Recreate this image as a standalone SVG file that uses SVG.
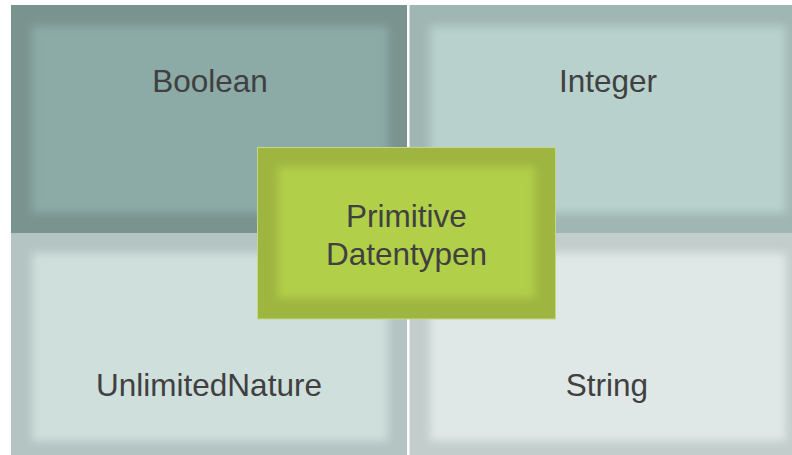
<svg xmlns="http://www.w3.org/2000/svg" width="792" height="455" viewBox="0 0 792 455">
  <defs>
    <!-- soft edge used for the lighter inner panel of every tile -->
    <filter id="soft" x="-10%" y="-10%" width="120%" height="120%">
      <feGaussianBlur stdDeviation="4"/>
    </filter>
    <style>
      .label { font-family: "Liberation Sans", Arial, sans-serif; font-size: 31.5px; fill: #404040; text-anchor: middle; }
      .inner { filter: url(#soft); }
    </style>
  </defs>

  <rect x="0" y="0" width="792" height="455" fill="#ffffff"/>

  <g id="boolean">
    <rect x="11" y="5" width="396" height="228" fill="#7a938f"/>
    <rect class="inner" x="32" y="26" width="356" height="187" fill="#8caaa6"/>
    <text class="label" x="210" y="91.5">Boolean</text>
  </g>

  <g id="integer">
    <rect x="409.5" y="5" width="397" height="228" fill="#a0b6b3"/>
    <rect class="inner" x="430" y="26" width="356" height="187" fill="#b8d1cd"/>
    <text class="label" x="608" y="91.5">Integer</text>
  </g>

  <g id="unlimitedNature">
    <rect x="11" y="233" width="396" height="228" fill="#b3c4c2"/>
    <rect class="inner" x="32" y="253" width="356" height="188" fill="#cfdfdc"/>
    <text class="label" x="209" y="396">UnlimitedNature</text>
  </g>

  <g id="string">
    <rect x="409.5" y="233" width="397" height="228" fill="#c3cdcc"/>
    <rect class="inner" x="430" y="253" width="356" height="188" fill="#dfe8e6"/>
    <text class="label" x="607" y="396">String</text>
  </g>

  <g id="primitiveDatentypen">
    <rect x="257.5" y="147.5" width="298" height="171.5" fill="#9eb540" stroke="#c4d88c" stroke-width="1"/>
    <rect class="inner" x="278" y="167" width="257" height="131" fill="#b2cf4a"/>
    <text class="label" x="406.5" y="227">Primitive</text>
    <text class="label" x="406.5" y="265">Datentypen</text>
  </g>
</svg>
